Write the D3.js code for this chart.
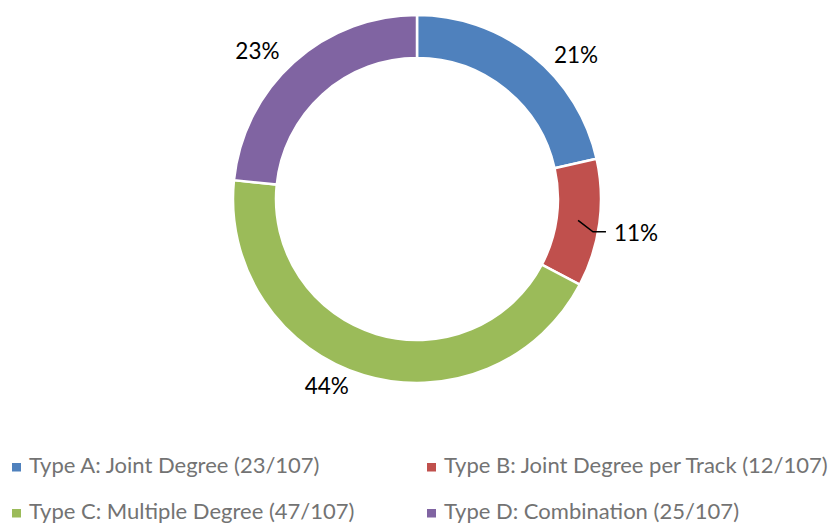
<!DOCTYPE html>
<html>
<head>
<meta charset="utf-8">
<script src="https://cdn.jsdelivr.net/npm/d3@7"></script>
<style>
  body { margin: 0; background: #fff; }
  svg text { font-family: Lato, "Liberation Sans", sans-serif; }
</style>
</head>
<body>
<svg id="chart" width="837" height="523"></svg>
<script>
// data
var categories = ["Type A: Joint Degree", "Type B: Joint Degree per Track", "Type C: Multiple Degree", "Type D: Combination"];
var counts = [23, 12, 47, 25];
var total = 107;
var colors = ["#4f81bd", "#c0504d", "#9bbb59", "#8064a2"];
// small angle nudges (degrees) and radius for the outside percent labels, Excel "best fit"-ish
var labelNudge = [9, 0, 9, -5];
var labelRadius = [215, 0, 207, 218];

var svg = d3.select("#chart"),
  cx = 417,
  cy = 199,
  outerR = 184,
  innerR = 141;

var g = svg.append("g").attr("transform", "translate(" + cx + "," + cy + ")");

var pie = d3.pie().sort(null).value(function(d) { return d; });
var arcs = pie(counts);

var arc = d3.arc().innerRadius(innerR).outerRadius(outerR);

g.selectAll(".slice")
  .data(arcs)
  .enter()
  .append("path")
  .attr("class", "slice")
  .attr("d", arc)
  .attr("fill", function(d, i) { return colors[i]; })
  .attr("stroke", "#fff")
  .attr("stroke-width", 2.5);

function polar(angle, r) {
  return [Math.sin(angle) * r, -Math.cos(angle) * r];
}

function pct(i) {
  return Math.round(counts[i] / total * 100) + "%";
}

// labels outside the ring
arcs.forEach(function(d, i) {
  if (i === 1) return;
  var mid = (d.startAngle + d.endAngle) / 2 + labelNudge[i] * Math.PI / 180;
  var p = polar(mid, labelRadius[i]);
  g.append("text")
    .attr("x", p[0])
    .attr("y", p[1])
    .attr("text-anchor", "middle")
    .attr("dominant-baseline", "central")
    .attr("font-size", 22.5)
    .attr("fill", "#000")
    .text(pct(i));
});

// small slice: leader line from the ring centroid
var b = arcs[1];
var bMid = (b.startAngle + b.endAngle) / 2;
var start = arc.centroid(b);
var elbow = polar(bMid + 3 * Math.PI / 180, 179);
var lineEnd = [elbow[0] + 13, elbow[1]];
g.append("polyline")
  .attr("points", [start, elbow, lineEnd].map(function(p) { return p.join(","); }).join(" "))
  .attr("fill", "none")
  .attr("stroke", "#000")
  .attr("stroke-width", 1.5);
g.append("text")
  .attr("x", lineEnd[0] + 8)
  .attr("y", lineEnd[1] + 1)
  .attr("dominant-baseline", "central")
  .attr("font-size", 22.5)
  .attr("fill", "#000")
  .text(pct(1));

// legend, two columns
var legend = svg.append("g").attr("class", "legend");
var colX = [12, 427],
  rowY = [473, 519];

var item = legend.selectAll(".item")
  .data(categories)
  .enter()
  .append("g")
  .attr("class", "item")
  .attr("transform", function(d, i) {
    return "translate(" + colX[i % 2] + "," + rowY[Math.floor(i / 2)] + ")";
  });

item.append("rect")
  .attr("x", 0)
  .attr("y", -10)
  .attr("width", 9)
  .attr("height", 8.5)
  .attr("fill", function(d, i) { return colors[i]; });

item.append("text")
  .attr("x", 17)
  .attr("y", 0)
  .attr("font-size", 22)
  .attr("fill", "#737373")
  .text(function(d, i) { return d + " (" + counts[i] + "/" + total + ")"; });
</script>
</body>
</html>
